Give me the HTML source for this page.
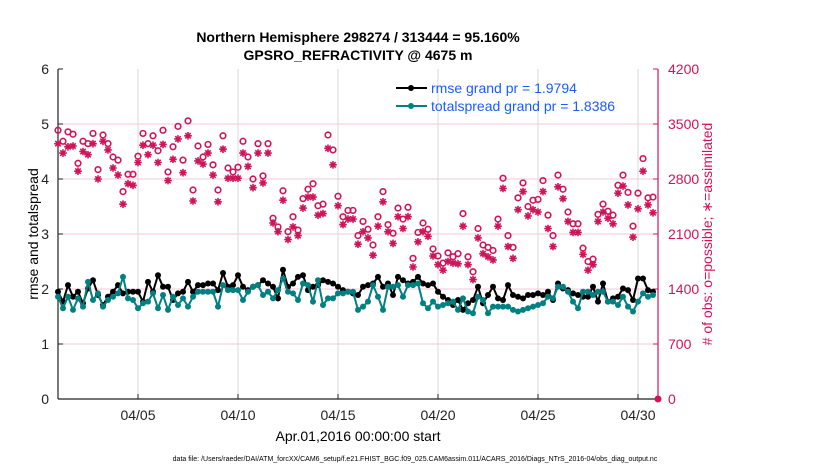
<!DOCTYPE html>
<html><head><meta charset="utf-8"><style>
body{margin:0;background:#fff;font-family:"Liberation Sans",sans-serif}
svg text{font-family:"Liberation Sans",sans-serif}
</style></head><body>
<svg id="chart" width="830" height="470" viewBox="0 0 830 470" xmlns="http://www.w3.org/2000/svg">
<rect width="830" height="470" fill="#fff"/>
<g id="grid"></g>
<g id="axes"></g>
<g id="marks"></g>
<text x="358" y="42" text-anchor="middle" font-size="14" font-weight="bold">Northern Hemisphere 298274 / 313444 = 95.160%</text>
<text x="358" y="60" text-anchor="middle" font-size="14" font-weight="bold">GPSRO_REFRACTIVITY @ 4675 m</text>
<text transform="translate(38,234) rotate(-90)" text-anchor="middle" font-size="14">rmse and totalspread</text>
<text transform="translate(712,234) rotate(-90)" text-anchor="middle" font-size="14" fill="#d0145a"># of obs: o=possible; ∗=assimilated</text>
<text x="358" y="441" text-anchor="middle" font-size="14">Apr.01,2016 00:00:00 start</text>
<text x="415" y="461" text-anchor="middle" font-size="7">data file: /Users/raeder/DAI/ATM_forcXX/CAM6_setup/f.e21.FHIST_BGC.f09_025.CAM6assim.011/ACARS_2016/Diags_NTrS_2016-04/obs_diag_output.nc</text>
<g>
<line x1="396" y1="88" x2="427" y2="88" stroke="#000" stroke-width="2"/><circle cx="411" cy="88" r="3" fill="#000"/>
<text x="431" y="93" font-size="14" fill="#1a5cff">rmse grand pr = 1.9794</text>
<line x1="396" y1="106" x2="427" y2="106" stroke="#008080" stroke-width="2"/><circle cx="411" cy="106" r="3" fill="#008080"/>
<text x="431" y="111" font-size="14" fill="#1a5cff">totalspread grand pr = 1.8386</text>
</g>
</svg>
<script>
const xTickLabels=["04/05","04/10","04/15","04/20","04/25","04/30"];
const xTickDays=[4,9,14,19,24,29];
const leftTicks=[0,1,2,3,4,5,6];
const rightTicks=[0,700,1400,2100,2800,3500,4200];
const rmse=[1.95,1.77,2.07,1.86,1.95,1.74,2.01,2.16,1.89,1.71,1.86,1.95,2.07,1.92,1.95,1.95,1.95,1.77,2.13,1.95,2.25,2.04,2.04,1.80,1.92,1.95,2.13,1.95,2.07,2.07,2.10,
2.10,1.98,2.29,2.04,2.07,2.25,2.04,1.98,2.04,2.07,2.16,2.10,2.04,1.83,2.35,2.04,2.10,2.22,2.25,1.98,2.04,2.07,2.16,2.13,2.10,2.04,1.98,1.95,1.92,1.89,
2.04,2.07,2.10,2.22,2.04,2.10,1.89,2.22,2.16,2.10,2.13,2.22,2.10,2.07,2.10,1.95,1.86,1.80,1.71,1.80,1.62,1.74,1.80,2.04,1.74,1.89,2.04,1.83,1.80,
2.07,1.89,1.86,1.83,1.89,1.89,1.92,1.89,1.95,1.80,2.10,2.01,1.98,1.92,1.89,1.86,1.86,2.04,1.77,2.10,1.77,1.83,1.86,2.01,1.98,1.80,2.19,2.19,1.98,1.95];
const spread=[1.86,1.65,1.86,1.62,1.83,1.68,2.13,1.80,1.92,1.68,1.80,1.86,1.92,2.22,1.83,1.80,1.65,1.74,1.77,1.92,1.65,1.89,1.62,1.86,1.71,1.83,1.68,1.86,1.95,1.95,1.95,
1.95,1.68,2.07,1.98,1.98,1.98,1.80,1.95,2.04,2.07,1.89,1.95,1.83,1.98,2.19,1.95,1.92,1.80,2.10,2.07,1.77,2.16,1.71,1.83,1.83,1.92,1.92,1.95,1.95,1.62,
1.68,1.77,2.07,1.86,1.62,2.04,2.04,2.07,1.86,2.07,2.07,2.10,1.74,1.65,1.77,1.68,1.71,1.74,1.77,1.62,1.83,1.59,1.56,1.86,1.80,1.56,1.68,1.68,1.68,
1.68,1.62,1.59,1.62,1.65,1.68,1.71,1.74,1.86,1.83,2.04,2.04,1.95,1.77,1.65,1.95,1.95,1.89,1.95,1.95,1.77,1.77,1.71,1.86,1.68,1.59,1.77,1.92,1.86,1.89];
const possible=[3420,3280,3400,3370,3000,3280,3250,3380,2920,3360,3250,3080,3040,2640,2860,2860,3090,3380,3250,3350,3160,3420,2890,3210,3470,3040,3540,2660,3220,3080,3240,
2980,2660,3350,2940,2890,2950,3280,3080,2800,3250,2840,3250,2300,2190,2650,2130,2320,2150,2550,2670,2740,2460,2480,3360,3170,2580,2320,2400,2400,2080,
2260,2160,1960,2320,2640,2220,2110,2430,2290,2440,1790,2120,2240,2160,1910,1820,1730,1860,1810,1850,2360,1810,1620,2170,1960,1930,1890,2290,2810,
2080,1930,2560,2750,2450,2530,2540,2780,2340,2080,2850,2670,2380,2230,2230,1920,1750,1780,2350,2480,2390,2340,2720,2850,2630,2200,2620,3060,2560,2570];
const assimilated=[3250,3130,3210,3220,2900,3150,3110,3250,2800,3280,3170,2940,2850,2480,2740,2720,3010,3230,3110,3230,3010,3240,2780,3050,3310,2880,3350,2520,3030,2990,3130,
2850,2510,3180,2810,2810,2810,3130,2960,2690,3130,2750,3130,2240,2130,2530,2030,2190,2080,2430,2570,2570,2340,2360,3190,2980,2460,2220,2290,2290,1970,
2130,2050,1830,2200,2510,2130,1980,2320,2170,2320,1680,2000,2130,2070,1820,1710,1640,1750,1730,1720,2200,1710,1520,2050,1850,1810,1770,2200,2680,
1940,1790,2410,2640,2330,2410,2380,2640,2170,1940,2700,2550,2260,2120,2120,1840,1640,1710,2260,2380,2300,2230,2620,2710,2470,2060,2420,2900,2470,2370];
const X0=58,X1=658,Y0=399,Y1=69,DAYS=30;
const NS="http://www.w3.org/2000/svg";
function xs(d){return X0+(d/DAYS)*(X1-X0);}
function yl(v){return Y0-(v/6)*(Y0-Y1);}
function yr(v){return Y0-(v/4200)*(Y0-Y1);}
function mk(tag,attrs,parent){const e=document.createElementNS(NS,tag);for(const k in attrs)e.setAttribute(k,attrs[k]);parent.appendChild(e);return e;}
const grid=document.getElementById('grid'),axes=document.getElementById('axes'),marks=document.getElementById('marks');
xTickDays.forEach((d,i)=>{
  const g=mk('line',{x1:xs(d),x2:xs(d),y1:Y1,y2:Y0,stroke:'#d8d8d8','stroke-width':1},grid);
  
  
  const t=mk('line',{x1:xs(d),x2:xs(d),y1:Y0,y2:Y0-5,stroke:'#222'},axes);
  
  
  const l=mk('text',{x:xs(d),y:Y0+21,'text-anchor':'middle','font-size':14,fill:'#222'},axes);
  l.textContent=xTickLabels[i];
  
  
});
rightTicks.forEach(v=>{
  if(v>0&&v<4200){const g=mk('line',{x1:X0,x2:X1,y1:yr(v),y2:yr(v),stroke:'#f6c9d8','stroke-width':1},grid);
  
  }
  const t=mk('line',{x1:X1-5,x2:X1,y1:yr(v),y2:yr(v),stroke:'#d0145a'},axes);
  
  
  const l=mk('text',{x:X1+10,y:yr(v)+5,'font-size':14,fill:'#d0145a'},axes);
  l.textContent=v;
  
  
});
leftTicks.forEach(v=>{
  const t=mk('line',{x1:X0,x2:X0+5,y1:yl(v),y2:yl(v),stroke:'#222'},axes);
  
  
  const l=mk('text',{x:X0-9,y:yl(v)+5,'text-anchor':'end','font-size':14,fill:'#222'},axes);
  l.textContent=v;
  
  
});
const la=mk('line',{x1:X0,x2:X0,y1:Y1,y2:Y0,stroke:'#222','stroke-width':1.2},axes);


const ba=mk('line',{x1:X0,x2:X1,y1:Y0,y2:Y0,stroke:'#222','stroke-width':1.2},axes);


const ra=mk('line',{x1:X1,x2:X1,y1:Y1,y2:Y0,stroke:'#d0145a','stroke-width':1.2},axes);


const dot=mk('circle',{cx:X1,cy:yr(0),r:3.5,fill:'#d0145a'},axes);


const RED='#d0145a';
possible.forEach((v,i)=>{
  const c=mk('circle',{cx:xs(i*0.25),cy:yr(v),r:2.8,fill:'none',stroke:RED,'stroke-width':1.6},marks);
  
  
});
assimilated.forEach((v,i)=>{
  const x=xs(i*0.25),y=yr(v),r=3.8,d=2.7;
  const p=mk('path',{d:`M${x-r},${y}H${x+r}M${x},${y-r}V${y+r}M${x-d},${y-d}L${x+d},${y+d}M${x-d},${y+d}L${x+d},${y-d}`,stroke:RED,'stroke-width':1.6},marks);
  
  
});
function series(arr,color,name){
  const pl=mk('polyline',{points:arr.map((v,i)=>xs(i*0.25)+','+yl(v)).join(' '),fill:'none',stroke:color,'stroke-width':2},marks);
  
  
  arr.forEach((v,i)=>{
    const c=mk('circle',{cx:xs(i*0.25),cy:yl(v),r:3,fill:color},marks);
    
    
  });
}
series(rmse,'#000','rmse');
series(spread,'#008080','totalspread');
</script>
</body></html>
